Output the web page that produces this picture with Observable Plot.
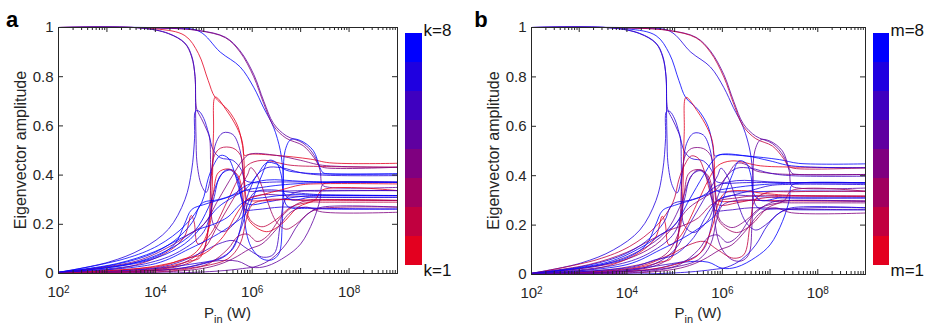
<!DOCTYPE html>
<html><head><meta charset="utf-8">
<script src="https://cdn.jsdelivr.net/npm/d3@7"></script>
<script src="https://cdn.jsdelivr.net/npm/@observablehq/plot@0.6"></script>
<style>
body{margin:0;background:#fff;}
#wrap{position:relative;width:926px;height:332px;overflow:hidden;background:#fff;}
</style></head><body><div id="wrap"></div>
<script>
// ---- colour levels (k / m = 1..8, red -> blue) ----
const kLevels = [1,2,3,4,5,6,7,8];
const palette = ["#e3001f","#c1003f","#a0005f","#7f0080","#5f00a0","#3f00c0","#1f00e0","#0000ff"];
// ---- axis ticks ----
const yTicks = [0,0.2,0.4,0.6,0.8,1];
const xDecades = [2,3,4,5,6,7,8,9];
const xLabelExps = [2,4,6,8];
const xMinorMult = [2,3,4,5,6,7,8,9];
// ---- curves: [log10(Pin / W), eigenvector amplitude] ----
const T1 = [[2,1],[4.1,0.998],[4.9,0.988],[5.45,0.96],[5.75,0.905],[6.03,0.81],[6.24,0.70],[6.44,0.61],[6.7,0.56],[7.05,0.53],[7.28,0.48],[7.4,0.42],[7.45,0.36],[7.6,0.35],[9,0.35]];
const T2 = [[2,1],[4.2,0.998],[4.9,0.985],[5.34,0.90],[5.75,0.84],[6.03,0.757],[6.23,0.676],[6.44,0.595],[6.58,0.5],[6.64,0.4],[6.66,0.3],[6.75,0.27],[7.2,0.265],[7.6,0.262],[9,0.262]];
const T3 = [[2,1],[3.99,0.995],[4.61,0.967],[4.89,0.894],[5.09,0.785],[5.23,0.717],[5.5,0.665],[5.7,0.6],[5.8,0.52],[5.84,0.48],[5.95,0.485],[6.5,0.48],[7.2,0.465],[7.6,0.45],[9,0.448]];
const T4 = [[2,1],[3.7,0.998],[4.27,0.975],[4.61,0.935],[4.75,0.88],[4.82,0.8],[4.835,0.7],[4.86,0.665],[4.95,0.63],[5.07,0.58],[5.12,0.55],[5.14,0.45],[5.15,0.3],[5.2,0.2],[5.4,0.17],[5.7,0.22],[5.9,0.3],[6.2,0.32],[6.8,0.315],[7.45,0.31],[9,0.31]];
const T5 = [[2,1],[3.7,0.998],[4.27,0.976],[4.61,0.937],[4.75,0.885],[4.82,0.8],[4.83,0.66],[4.84,0.55],[4.86,0.45],[4.95,0.36],[5.05,0.33],[5.15,0.4],[5.25,0.53],[5.4,0.572],[5.6,0.565],[5.75,0.5],[5.82,0.4],[5.88,0.34],[6.2,0.335],[7.45,0.338],[9,0.337]];
const T6 = [[2,1],[4.1,0.998],[4.9,0.987],[5.45,0.958],[5.75,0.9],[6.03,0.8],[6.24,0.69],[6.44,0.6],[6.7,0.55],[7.05,0.52],[7.28,0.47],[7.38,0.44],[7.5,0.43],[9,0.432]];
const B1 = [[2,0.005],[3.03,0.046],[3.72,0.10],[4.27,0.18],[4.61,0.30],[4.75,0.42],[4.81,0.55],[4.83,0.66],[4.9,0.66],[5.0,0.63],[5.1,0.57],[5.2,0.5],[5.35,0.47],[5.6,0.46],[5.78,0.42],[5.85,0.38],[6.0,0.37],[6.5,0.372],[7.45,0.372],[9,0.371]];
const B2 = [[2,0.004],[3.37,0.06],[4.06,0.114],[4.61,0.195],[4.96,0.29],[5.09,0.385],[5.2,0.44],[5.35,0.48],[5.5,0.47],[5.62,0.42],[5.72,0.35],[5.8,0.3],[5.95,0.28],[6.3,0.29],[6.7,0.305],[7.1,0.315],[7.45,0.318],[9,0.317]];
const B3 = [[2,0.002],[3.5,0.03],[4.27,0.09],[4.6,0.15],[4.74,0.236],[4.8,0.21],[4.88,0.12],[5.1,0.15],[5.5,0.3],[5.7,0.38],[5.9,0.44],[6.2,0.46],[6.8,0.44],[7.45,0.435],[9,0.432]];
const B4 = [[2,0.001],[4.0,0.02],[4.7,0.05],[4.93,0.066],[5.13,0.229],[5.2,0.568],[5.24,0.717],[5.48,0.66],[5.68,0.595],[5.79,0.54],[5.83,0.46],[5.85,0.35],[5.9,0.3],[6.1,0.295],[6.6,0.3],[7.45,0.298],[9,0.297]];
const B5 = [[2,0.003],[3.5,0.04],[4.3,0.1],[4.8,0.17],[5.1,0.27],[5.3,0.38],[5.45,0.42],[5.6,0.42],[5.75,0.36],[5.82,0.25],[5.9,0.15],[6.0,0.1],[6.2,0.06],[6.4,0.055],[6.55,0.08],[6.62,0.2],[6.64,0.4],[6.68,0.5],[6.8,0.545],[7.0,0.54],[7.26,0.5],[7.4,0.43],[7.46,0.41],[7.6,0.405],[9,0.405]];
const B6 = [[2,0.001],[4.5,0.02],[5.2,0.05],[5.7,0.05],[6.0,0.025],[6.3,0.03],[6.7,0.07],[7.0,0.12],[7.26,0.215],[7.4,0.3],[7.45,0.36],[7.6,0.37],[9,0.371]];
const B7 = [[2,0.001],[4.5,0.03],[4.95,0.08],[5.1,0.2],[5.15,0.38],[5.22,0.48],[5.35,0.51],[5.6,0.51],[5.76,0.48],[5.82,0.4],[5.86,0.3],[5.95,0.22],[6.2,0.19],[6.5,0.22],[6.8,0.27],[7.2,0.29],[7.45,0.29],[9,0.29]];
const B8 = [[2,0.002],[4.0,0.03],[4.8,0.08],[5.1,0.18],[5.2,0.33],[5.3,0.41],[5.5,0.425],[5.7,0.4],[5.8,0.33],[5.85,0.25],[6.0,0.2],[6.3,0.17],[6.6,0.2],[6.95,0.27],[7.3,0.3],[7.45,0.34],[9,0.337]];
const B9 = [[2,0.004],[3.8,0.05],[4.6,0.12],[5.0,0.2],[5.3,0.27],[5.6,0.31],[5.85,0.34],[6.1,0.4],[6.3,0.45],[6.5,0.445],[6.7,0.42],[7.0,0.41],[7.45,0.405],[9,0.405]];
const B11 = [[2,0.003],[3.9,0.06],[4.4,0.12],[4.6,0.2],[4.75,0.26],[5.0,0.28],[5.5,0.31],[5.9,0.34],[6.2,0.35],[6.6,0.36],[7.45,0.37],[9,0.371]];
const B12 = [[2,0.002],[4.0,0.02],[4.8,0.04],[5.3,0.06],[5.6,0.1],[5.75,0.18],[5.85,0.28],[5.95,0.34],[6.1,0.4],[6.3,0.43],[6.6,0.43],[7.0,0.41],[7.45,0.4],[9,0.398]];
const B13 = [[2,0.001],[4.2,0.015],[5.0,0.04],[5.5,0.08],[5.8,0.2],[5.9,0.28],[6.05,0.33],[6.4,0.34],[6.8,0.33],[7.45,0.32],[9,0.317]];
const B14 = [[2,0.001],[4.3,0.01],[5.0,0.03],[5.5,0.06],[5.75,0.12],[5.88,0.22],[6.0,0.28],[6.3,0.3],[6.8,0.3],[7.2,0.295],[7.45,0.3],[9,0.297]];
const B15 = [[2,0.003],[4.0,0.04],[4.7,0.1],[5.2,0.15],[5.6,0.2],[5.85,0.24],[6.0,0.3],[6.2,0.4],[6.35,0.46],[6.5,0.45],[6.6,0.4],[6.65,0.33],[6.8,0.3],[7.2,0.31],[7.45,0.31],[9,0.31]];
const B16 = [[2,0.002],[4.4,0.03],[5.0,0.1],[5.3,0.2],[5.6,0.3],[5.9,0.4],[5.97,0.43],[6.1,0.4],[6.3,0.3],[6.5,0.21],[6.7,0.18],[6.9,0.2],[7.2,0.25],[7.45,0.265],[9,0.27]];
const B17 = [[2,0.002],[4.2,0.03],[4.9,0.08],[5.3,0.12],[5.62,0.134],[5.9,0.1],[6.23,0.066],[6.45,0.08],[6.58,0.2],[6.68,0.3],[6.9,0.33],[7.45,0.335],[9,0.337]];
const B18 = [[2,0.001],[4.5,0.01],[5.2,0.03],[5.6,0.06],[5.95,0.1],[6.2,0.12],[6.5,0.18],[6.8,0.25],[7.1,0.27],[7.45,0.25],[9,0.249]];
const B19 = [[2,0.002],[4.1,0.03],[4.6,0.06],[5.0,0.08],[5.4,0.15],[5.7,0.25],[5.9,0.3],[6.2,0.32],[6.6,0.34],[7.0,0.36],[7.45,0.365],[9,0.364]];
const B20 = [[2,0.005],[3.2,0.04],[4.0,0.09],[4.5,0.14],[4.9,0.18],[5.2,0.2],[5.5,0.23],[5.75,0.28],[5.95,0.3],[6.3,0.31],[6.7,0.32],[7.1,0.32],[7.45,0.318],[9,0.317]];
const B23 = [[2,0.004],[3.6,0.05],[4.3,0.11],[4.7,0.16],[5.0,0.2],[5.3,0.3],[5.6,0.4],[5.8,0.46],[5.95,0.485],[6.5,0.48],[7.0,0.46],[7.45,0.44],[9,0.432]];
const B25 = [[2,0],[4.5,0.003],[5.3,0.01],[5.8,0.02],[6.1,0.03],[6.4,0.06],[6.7,0.12],[6.95,0.2],[7.2,0.25],[7.45,0.27],[9,0.27]];
const B26 = [[2,0.003],[3.8,0.04],[4.5,0.09],[5.0,0.17],[5.2,0.3],[5.35,0.4],[5.55,0.42],[5.7,0.38],[5.78,0.3],[5.85,0.26],[6.1,0.26],[6.6,0.27],[7.45,0.265],[9,0.262]];
const B27 = [[2,0.006],[3.0,0.03],[3.8,0.07],[4.3,0.12],[4.6,0.17],[4.8,0.22],[4.9,0.27],[5.0,0.29],[5.3,0.3],[5.6,0.32],[5.9,0.36],[6.3,0.38],[7.0,0.375],[7.45,0.372],[9,0.371]];
const B28 = [[2,0.001],[4.6,0.02],[5.1,0.04],[5.5,0.1],[5.7,0.15],[5.9,0.16],[6.1,0.13],[6.3,0.15],[6.6,0.23],[6.9,0.28],[7.2,0.3],[7.45,0.3],[9,0.297]];
const curves = [T1,T2,T3,T4,T5,T6,B1,B2,B3,B4,B5,B6,B7,B8,B9,B11,B12,B13,B14,B15,B16,B17,B18,B19,B20,B23,B25,B26,B27,B28];
// colour level index (0 = level 1 red ... 7 = level 8 blue) for each curve
const colorA = [4,7,0,4,5,3,6,7,1,0,7,4,1,0,7,7,6,6,1,7,2,5,3,0,7,3,4,6,7,2];
const colorB = [4,6,7,5,6,1,6,1,0,0,4,7,3,2,3,7,5,0,4,7,5,1,3,6,2,7,6,5,6,4];

const FONT = "'Liberation Sans', Arial, Helvetica, sans-serif";
const INK = "#262626";
const wrap = document.getElementById("wrap");
function place(el, left) {
  el.style.position = "absolute"; el.style.left = left + "px"; el.style.top = "0px";
  wrap.appendChild(el);
}

function makePanel({left, ml, mr, mt, mb, colorIdx, letter, letterX, yLabelX}) {
  const W = 463, H = 332;
  const pw = W - ml - mr, ph = H - mt - mb;
  const rows = curves.flatMap((c, i) => c.map(([e, v]) => ({id: i, P: 10 ** e, v, k: colorIdx[i]})));
  const xMajor = xDecades.map(e => 10 ** e);
  const xMinor = xDecades.slice(0, -1).flatMap(e => xMinorMult.map(m => m * 10 ** e));
  const svg = Plot.plot({
    width: W, height: H, marginLeft: ml, marginRight: mr, marginTop: mt, marginBottom: mb,
    style: {fontFamily: FONT, fontSize: "15px", color: INK, background: "none", overflow: "visible"},
    x: {type: "log", domain: [1e2, 1e9]},
    y: {domain: [0, 1]},
    color: {type: "ordinal", domain: d3.range(8), range: palette},
    marks: [
      Plot.line(rows, {x: "P", y: "v", z: "id", stroke: "k", strokeWidth: 1, strokeOpacity: 0.8, curve: "catmull-rom"}),
      Plot.frame({stroke: INK}),
      Plot.tickX(xMajor, {x: d => d, insetTop: ph - 5, stroke: INK}),
      Plot.tickX(xMajor, {x: d => d, insetBottom: ph - 5, stroke: INK}),
      Plot.tickX(xMinor, {x: d => d, insetTop: ph - 3, stroke: INK}),
      Plot.tickX(xMinor, {x: d => d, insetBottom: ph - 3, stroke: INK}),
      Plot.tickY(yTicks, {y: d => d, insetRight: pw - 5, stroke: INK}),
      Plot.tickY(yTicks, {y: d => d, insetLeft: pw - 5, stroke: INK}),
      Plot.axisX(xLabelExps.map(e => 10 ** e), {tickSize: 0, tickPadding: 13, tickFormat: d => "10^" + Math.round(Math.log10(d)), label: null, fontSize: 15, fill: INK}),
      Plot.axisY(yTicks, {tickSize: 0, tickPadding: 5, tickFormat: d => String(d), label: null, fontSize: 15, fill: INK})
    ]
  });
  const s = d3.select(svg);
  s.selectAll("text").each(function() {
    const m = /^10\^(\d)$/.exec(this.textContent);
    if (m) {
      const t = d3.select(this);
      t.text("10");
      t.append("tspan").attr("dy", "-0.45em").attr("font-size", "10px").text(m[1]);
    }
  });
  s.append("text")
    .attr("transform", `translate(${yLabelX},${mt + ph / 2}) rotate(-90)`)
    .attr("text-anchor", "middle").attr("font-size", 16).attr("fill", INK)
    .text("Eigenvector amplitude");
  const xl = s.append("text").attr("x", ml + pw / 2).attr("y", 318)
    .attr("text-anchor", "middle").attr("font-size", 15).attr("fill", INK);
  xl.append("tspan").text("P");
  xl.append("tspan").attr("font-size", 11).attr("dy", 5).text("in");
  xl.append("tspan").attr("dy", -5).text(" (W)");
  s.append("text").attr("x", letterX).attr("y", 27).attr("font-weight", "bold")
    .attr("font-size", 22).attr("fill", "#000").text(letter);
  place(svg, left);
}

function makeBar({left, width, mr, sym}) {
  const svg = Plot.plot({
    width, height: 332, marginLeft: 25, marginRight: mr, marginTop: 32, marginBottom: 66,
    style: {fontFamily: FONT, background: "none", overflow: "visible"},
    y: {type: "band", domain: kLevels.slice().reverse(), padding: 0, axis: null},
    color: {type: "ordinal", domain: kLevels, range: palette},
    marks: [
      Plot.cell(kLevels, {y: d => d, fill: d => d}),
      Plot.text([`${sym}=${kLevels[kLevels.length - 1]}`], {text: d => d, frameAnchor: "top-right", textAnchor: "start", lineAnchor: "bottom", dx: 1, dy: 3, fontSize: 17, fill: "#111"}),
      Plot.text([`${sym}=${kLevels[0]}`], {text: d => d, frameAnchor: "bottom-right", textAnchor: "start", lineAnchor: "bottom", dx: 1, dy: 9, fontSize: 17, fill: "#111"})
    ]
  });
  place(svg, left);
}

makePanel({left: 0, ml: 58, mr: 66, mt: 27, mb: 59, colorIdx: colorA, letter: "a", letterX: 12, yLabelX: 26});
makeBar({left: 380, width: 83, mr: 41, sym: "k"});
makePanel({left: 463, ml: 68, mr: 61, mt: 27, mb: 58, colorIdx: colorB, letter: "b", letterX: 18, yLabelX: 36});
makeBar({left: 848, width: 78, mr: 37, sym: "m"});
</script></body></html>
